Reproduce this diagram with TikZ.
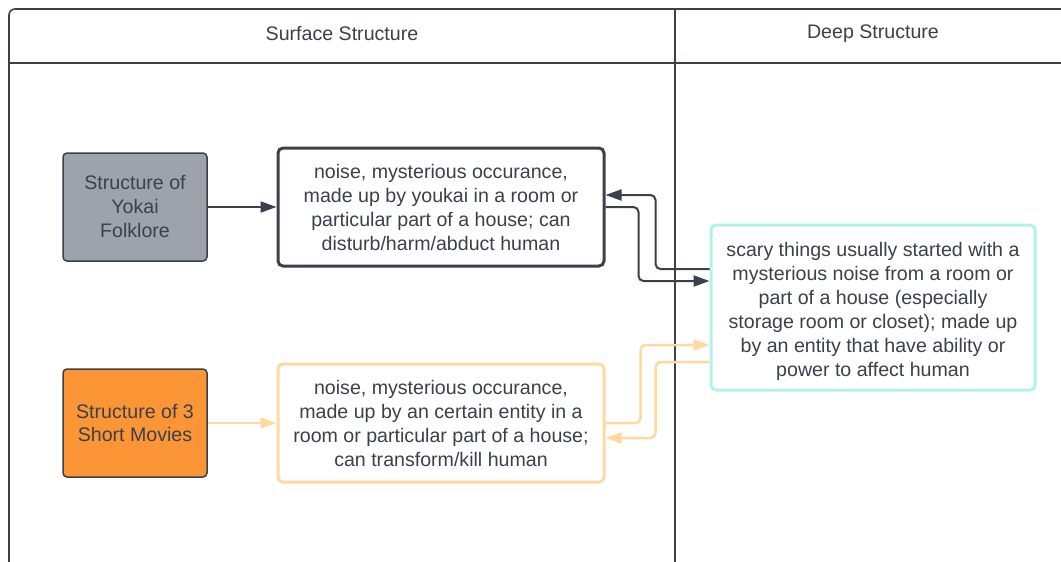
\documentclass[tikz,border=0pt]{standalone}
\usepackage{fontspec}
\setmainfont{Liberation Sans}
\usetikzlibrary{arrows.meta}
\definecolor{ink}{HTML}{3A414C}
\definecolor{slate}{HTML}{9EA3AB}
\definecolor{pumpkin}{HTML}{FC9535}
\definecolor{peach}{HTML}{FFD9A0}
\definecolor{mint}{HTML}{B2F2EA}

\begin{document}
\begin{tikzpicture}[x=1pt,y=-1pt,
lane/.style={draw=ink,line width=1.6pt},
head/.style={text=ink,font=\fontsize{19.6}{24}\selectfont},
srcbox/.style={draw=ink,line width=1.5pt,rounded corners=4pt,minimum width=144pt,minimum height=108pt,align=center,text=ink,font=\fontsize{19.6}{24}\selectfont},
txtbox/.style={fill=white,line width=3pt,rounded corners=5pt,minimum width=326pt,minimum height=118pt,align=center,text=ink,font=\fontsize{19.6}{24}\selectfont},
link/.style={line width=2pt,rounded corners=5pt,-{Triangle[length=16pt,width=11pt]}},
]
\clip (0,0) rectangle (1061,562);
\fill[white] (0,0) rectangle (1061,562);

% table
\draw[lane,rounded corners=6pt] (9,9) rectangle (1071,620);
\draw[lane] (9,63) -- (1071,63);
\draw[lane] (675,9) -- (675,620);
\node[head] (surface) at (342,34) {Surface Structure};
\node[head] (deep) at (873,34) {Deep Structure};

% boxes
\node[srcbox,fill=slate] (yokai) at (135,207) {Structure of\\Yokai\\Folklore};
\node[srcbox,fill=pumpkin] (movies) at (135,423) {Structure of 3\\Short Movies};
\node[txtbox,draw=ink] (yokaitxt) at (441,207) {noise, mysterious occurance,\\made up by youkai in a room or\\particular part of a house; can\\disturb/harm/abduct human};
\node[txtbox,draw=peach] (movietxt) at (441,423) {noise, mysterious occurance,\\made up by an certain entity in a\\room or particular part of a house;\\can transform/kill human};
\node[txtbox,draw=mint,minimum width=324pt,minimum height=165pt] (deeptxt) at (873,307.5) {\rule{0pt}{22pt}scary things usually started with a\\mysterious noise from a room or\\part of a house (especially\\storage room or closet); made up\\by an entity that have ability or\\power to affect human};

% links
\draw[link,ink] (yokai) -- (yokaitxt);
\draw[link,peach,line width=2.5pt] (movies) -- (movietxt);
\draw[link,ink] ([yshift=38.5pt]deeptxt.west) -- ++(-54,0) |- ([yshift=12pt]yokaitxt.east);
\draw[link,ink] (yokaitxt.east) -- ++(33,0) |- ([yshift=26.5pt]deeptxt.west);
\draw[link,peach,line width=2.5pt] (movietxt.east) -- ++(35,0) |- ([yshift=-37.5pt]deeptxt.west);
\draw[link,peach,line width=2.5pt] ([yshift=-54.5pt]deeptxt.west) -- ++(-54,0) |- ([yshift=-15pt]movietxt.east);

\end{tikzpicture}
\end{document}
